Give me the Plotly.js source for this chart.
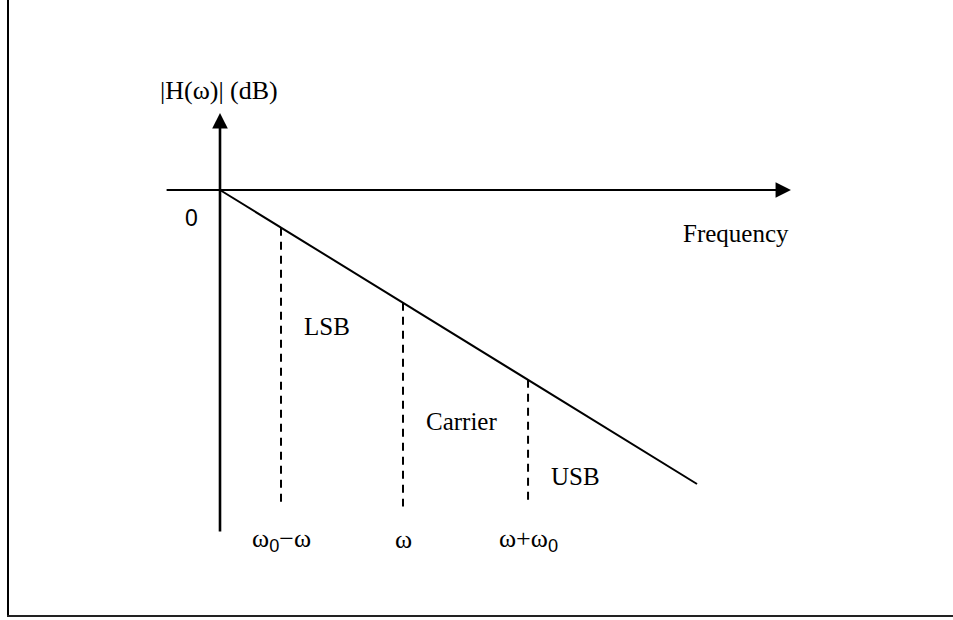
<!DOCTYPE html>
<html>
<head>
<meta charset="utf-8">
<script src="https://cdn.plot.ly/plotly-3.0.1.min.js"></script>
<style>html,body{margin:0;padding:0;background:#fff;}#chart{width:953px;height:620px;}</style>
</head>
<body>
<div id="chart"></div>
<script>
// Schematic: filter magnitude response (dB) falling with frequency
const responseFreq = [0, 7.82];          // arbitrary frequency units
const responseGain = [0, -30];           // dB
const markerNames  = ["LSB", "Carrier", "USB"];
const sub0 = "<sub><span style=\"font-family:Liberation Sans\">0</span></sub>";
const markerTicks  = ["ω" + sub0 + "−ω", "ω", "ω+ω" + sub0];
const markerFreq   = [1, 3, 5.05];
const markerGain   = [-3.84, -11.51, -19.37];   // on the response line
const markerFloor  = [-32.0, -32.3, -31.6];     // bottom of dashed drop lines
const labelGain    = [-13.9, -23.6, -29.2];     // vertical spot of band names
const axisFreq     = [-0.9, 9.36];              // horizontal axis extent
const axisGain     = [-35.0, 7.86];             // vertical axis extent

const serif = "'Liberation Serif', 'Times New Roman', serif";
const sans  = "'Liberation Sans', Arial, sans-serif";

const traces = [{
  x: responseFreq, y: responseGain, mode: "lines", type: "scatter",
  line: {color: "#000", width: 2}, hoverinfo: "skip", showlegend: false
}];
markerFreq.forEach((f, i) => {
  traces.push({
    x: [f, f], y: [markerGain[i], markerFloor[i]], mode: "lines", type: "scatter",
    line: {color: "#000", width: 2, dash: "8px,6px"}, hoverinfo: "skip", showlegend: false
  });
});

const annotations = [
  // vertical axis with arrow
  {x: 0, y: axisGain[1], ax: 0, ay: axisGain[0], xref: "x", yref: "y", axref: "x", ayref: "y",
   text: "", showarrow: true, arrowhead: 2, arrowsize: 1.2, arrowwidth: 2.6, arrowcolor: "#000", standoff: 0},
  // horizontal axis with arrow
  {x: axisFreq[1], y: 0, ax: axisFreq[0], ay: 0, xref: "x", yref: "y", axref: "x", ayref: "y",
   text: "", showarrow: true, arrowhead: 2, arrowsize: 1.4, arrowwidth: 2.2, arrowcolor: "#000", standoff: 0},
  {x: -0.02, y: 10.2, xref: "x", yref: "y", text: "|H(ω)| (dB)", showarrow: false,
   xanchor: "center", yanchor: "middle", font: {family: serif, size: 26, color: "#000"}},
  {x: -0.46, y: -2.9, xref: "x", yref: "y", text: "0", showarrow: false,
   xanchor: "center", yanchor: "middle", font: {family: sans, size: 23, color: "#000"}},
  {x: axisFreq[1], y: -4.4, xref: "x", yref: "y", text: "Frequency", showarrow: false,
   xanchor: "right", yanchor: "middle", font: {family: serif, size: 25, color: "#000"}}
];
markerFreq.forEach((f, i) => {
  annotations.push({x: f + 0.34, y: labelGain[i], xref: "x", yref: "y", text: markerNames[i],
    showarrow: false, xanchor: "left", yanchor: "middle", font: {family: serif, size: 25, color: "#000"}});
  annotations.push({x: f, y: -35.7, xref: "x", yref: "y", text: markerTicks[i],
    showarrow: false, xanchor: "center", yanchor: "middle", font: {family: serif, size: 26, color: "#000"}});
});

const layout = {
  width: 953, height: 620,
  margin: {l: 0, r: 0, t: 0, b: 0, pad: 0},
  paper_bgcolor: "#fff", plot_bgcolor: "#fff",
  xaxis: {range: [-220/61, 733/61], visible: false, showgrid: false, zeroline: false, fixedrange: true},
  yaxis: {range: [-430/9.8, 190/9.8], visible: false, showgrid: false, zeroline: false, fixedrange: true},
  showlegend: false,
  annotations: annotations,
  shapes: [
    {type: "line", xref: "paper", yref: "paper", x0: 8/953, x1: 8/953, y0: 1.01, y1: 4/620,
     line: {color: "#000", width: 2}},
    {type: "line", xref: "paper", yref: "paper", x0: 7/953, x1: 1.01, y0: 4/620, y1: 4/620,
     line: {color: "#222", width: 2}}
  ]
};

Plotly.newPlot("chart", traces, layout, {displayModeBar: false, staticPlot: true});
</script>
</body>
</html>
